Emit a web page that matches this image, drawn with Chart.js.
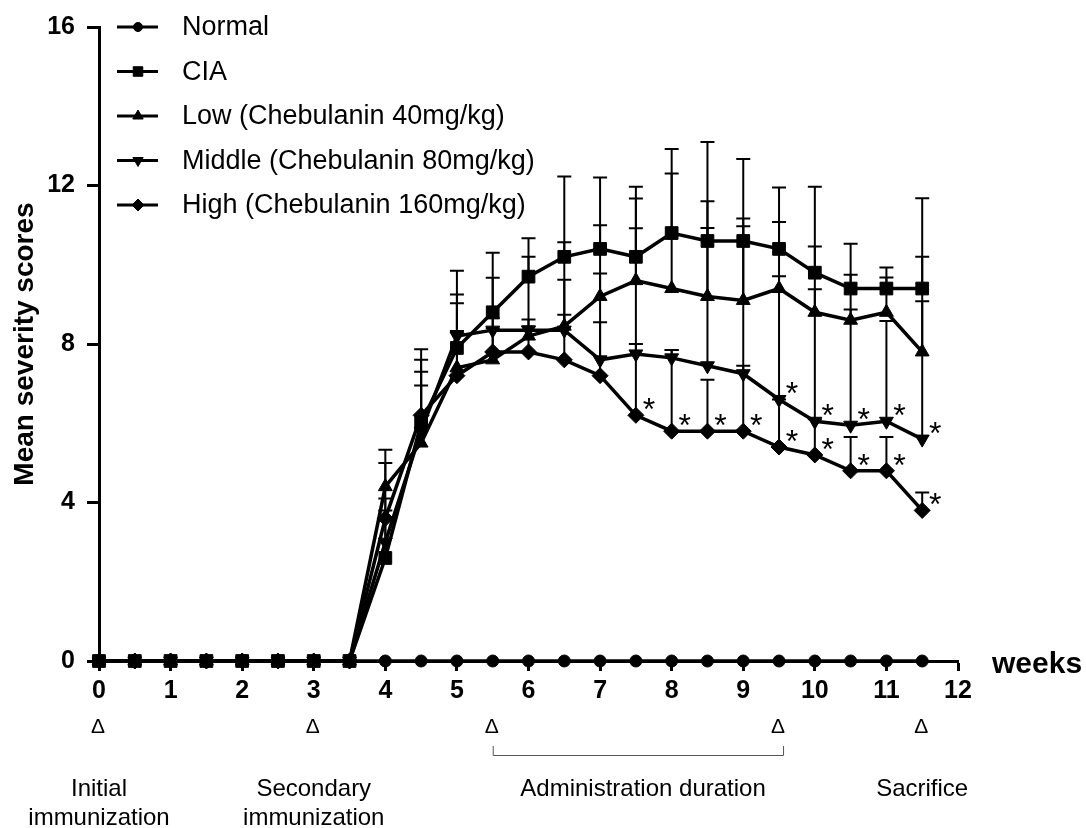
<!DOCTYPE html>
<html>
<head>
<meta charset="utf-8">
<script src="https://cdn.jsdelivr.net/npm/chart.js@4.4.0/dist/chart.umd.min.js"></script>
<style>
  html, body { margin: 0; padding: 0; background: #fff; }
  #c { display: block; }
</style>
</head>
<body>
<canvas id="c" width="1086" height="828"></canvas>
<script>
// weeks after initial immunization (one reading every half week)
const weeks = [0,0.5,1,1.5,2,2.5,3,3.5,4,4.5,5,5.5,6,6.5,7,7.5,8,8.5,9,9.5,10,10.5,11,11.5];

const labels = ['Normal', 'CIA', 'Low (Chebulanin 40mg/kg)', 'Middle (Chebulanin 80mg/kg)', 'High (Chebulanin 160mg/kg)'];

// mean severity scores
const normal = [0,0,0,0,0,0,0,0, 0,0,0,0,0,0,0,0,0,0,0,0,0,0,0,0];
const cia    = [0,0,0,0,0,0,0,0, 2.6,6.0,7.9,8.8,9.7,10.2,10.4,10.2,10.8,10.6,10.6,10.4,9.8,9.4,9.4,9.4];
const low    = [0,0,0,0,0,0,0,0, 4.4,5.5,7.4,7.6,8.2,8.45,9.2,9.6,9.4,9.2,9.1,9.4,8.8,8.6,8.8,7.8];
const middle = [0,0,0,0,0,0,0,0, 3.0,5.8,8.2,8.35,8.35,8.35,7.6,7.75,7.65,7.45,7.25,6.6,6.05,5.95,6.05,5.6];
const high   = [0,0,0,0,0,0,0,0, 3.6,6.2,7.2,7.8,7.8,7.6,7.2,6.2,5.8,5.8,5.8,5.4,5.2,4.8,4.8,3.8];

// upper error bars
const normalErr = [0,0,0,0,0,0,0,0, 0,0,0,0,0,0,0,0,0,0,0,0,0,0,0,0];
const ciaErr    = [0,0,0,0,0,0,0,0, 1.5,1.87,1.95,1.5,0.97,2.03,1.8,1.77,2.12,2.5,2.07,1.55,2.17,1.13,0.53,2.28];
const lowErr    = [0,0,0,0,0,0,0,0, 0.93,1.8,1.85,2.07,2.0,2.12,1.8,2.07,2.9,2.4,2.07,1.68,1.66,1.15,0.88,2.4];
const middleErr = [0,0,0,0,0,0,0,0, 0.8,1.8,0.83,0.3,0.1,1.27,2.18,3.17,0.2,3.48,3.72,3.11,3.33,2.92,2.53,3.48];
const highErr   = [0,0,0,0,0,0,0,0, 1.4,0.75,1.13,0.6,0.82,1.14,1.35,1.8,2.05,1.3,1.65,1.2,0.9,0.85,0.85,0.45];

// weeks marked with * (significant vs CIA)
const sigMiddle = [9.5,10,10.5,11,11.5];
const sigHigh = [7.5,8,8.5,9,9.5,10,10.5,11,11.5];

// timeline below the axis
const markWeeks = [0,3,5.5,9.5,11.5];
const adminRange = [5.5,9.5];
const phaseWeeks = [0,3,7.6,11.5];
const phaseText = [['Initial','immunization'],['Secondary','immunization'],['Administration duration'],['Sacrifice']];

const FONT = "'Liberation Sans', Arial, sans-serif";
const means = [normal, cia, low, middle, high];
const errs = [normalErr, ciaErr, lowErr, middleErr, highErr];
const styles = [
  { pointStyle:'circle', radius:6, rot:0 },
  { pointStyle:'rect', radius:9, rot:0 },
  { pointStyle:'triangle', radius:8, rot:0 },
  { pointStyle:'triangle', radius:8, rot:180 },
  { pointStyle:'rectRot', radius:8, rot:0 }
];

const datasets = means.map((vals,k)=>({
  label: labels[k],
  data: weeks.map((w,i)=>({x:w, y:vals[i]})),
  borderColor:'#000',
  backgroundColor:'#000',
  borderWidth:3.5,
  pointStyle: styles[k].pointStyle,
  pointRadius: styles[k].radius,
  pointRotation: styles[k].rot,
  pointBorderWidth:1,
  tension:0,
  clip:false
}));

const extras = {
  id:'extras',
  beforeDatasetsDraw(chart){
    const {ctx, scales:{x, y}} = chart;
    ctx.save();
    ctx.strokeStyle = '#000';
    ctx.lineWidth = 2;
    errs.forEach((err,k)=>{
      err.forEach((e,i)=>{
        if(!e) return;
        const px = x.getPixelForValue(weeks[i]);
        const y0 = y.getPixelForValue(means[k][i]);
        const y1 = y.getPixelForValue(means[k][i] + e);
        ctx.beginPath();
        ctx.moveTo(px, y0); ctx.lineTo(px, y1);
        ctx.moveTo(px-7, y1); ctx.lineTo(px+7, y1);
        ctx.stroke();
      });
    });
    ctx.restore();
  },
  afterDraw(chart){
    const {ctx, scales:{x, y}} = chart;
    ctx.save();
    ctx.fillStyle = '#000';
    ctx.strokeStyle = '#000';

    // legend
    labels.forEach((lab,k)=>{
      const ly = 27 + k*44.5;
      ctx.lineWidth = 3;
      ctx.beginPath(); ctx.moveTo(117, ly); ctx.lineTo(158, ly); ctx.stroke();
      ctx.lineWidth = 1;
      Chart.helpers.drawPoint(ctx, {pointStyle:styles[k].pointStyle, radius:styles[k].radius*0.75, rotation:styles[k].rot, borderWidth:1}, 138, ly);
      ctx.font = `27px ${FONT}`;
      ctx.textBaseline = 'middle';
      ctx.textAlign = 'left';
      ctx.fillText(lab, 182, ly + 1);
    });

    // asterisks
    ctx.font = `32px ${FONT}`;
    ctx.textAlign = 'center';
    ctx.textBaseline = 'alphabetic';
    const star = (w, vals) => {
      const i = weeks.indexOf(w);
      ctx.fillText('*', x.getPixelForValue(w) + 13, y.getPixelForValue(vals[i]) + 5);
    };
    sigMiddle.forEach(w=>star(w, middle));
    sigHigh.forEach(w=>star(w, high));

    // axis unit
    ctx.font = `bold 30px ${FONT}`;
    ctx.textAlign = 'left';
    ctx.fillText('weeks', 992, 673);

    // timeline marks
    ctx.font = `21px ${FONT}`;
    ctx.textAlign = 'center';
    ctx.textBaseline = 'middle';
    markWeeks.forEach(w=>ctx.fillText('\u0394', x.getPixelForValue(w) - 1, 727));

    ctx.strokeStyle = '#555';
    ctx.lineWidth = 1;
    const bx0 = x.getPixelForValue(adminRange[0]), bx1 = x.getPixelForValue(adminRange[1]) + 4;
    ctx.beginPath();
    ctx.moveTo(bx0+0.5, 746); ctx.lineTo(bx0+0.5, 755.5); ctx.lineTo(bx1+0.5, 755.5); ctx.lineTo(bx1+0.5, 746);
    ctx.stroke();

    ctx.font = `24px ${FONT}`;
    phaseText.forEach((lines,j)=>{
      const px = x.getPixelForValue(phaseWeeks[j]);
      lines.forEach((t,l)=>ctx.fillText(t, px, 789 + l*29));
    });
    ctx.restore();
  }
};

new Chart(document.getElementById('c'), {
  type:'line',
  data:{ datasets },
  plugins:[extras],
  options:{
    responsive:false,
    devicePixelRatio:1,
    animation:false,
    layout:{ padding:{ left:0, top:21, right:128, bottom:0 } },
    plugins:{ legend:{ display:false }, tooltip:{ enabled:false } },
    scales:{
      x:{
        type:'linear', min:0, max:12,
        afterFit(s){ s.height = 167; },
        ticks:{ stepSize:1, color:'#000', padding:5, maxRotation:0, font:{ family:FONT, size:25, weight:'bold' } },
        grid:{ drawOnChartArea:false, drawTicks:true, tickLength:10, tickWidth:3, tickColor:'#000', color:'#000' },
        border:{ display:true, width:3, color:'#000' }
      },
      y:{
        type:'linear', min:0, max:16,
        afterFit(s){ s.width = 99; },
        ticks:{ stepSize:4, color:'#000', padding:12, font:{ family:FONT, size:25, weight:'bold' } },
        grid:{ drawOnChartArea:false, drawTicks:true, tickLength:12, tickWidth:3, tickColor:'#000', color:'#000' },
        border:{ display:true, width:3, color:'#000' },
        title:{ display:true, text:'Mean severity scores', color:'#000', padding:{ top:8, bottom:0 }, font:{ family:FONT, size:28, weight:'bold' } }
      }
    }
  }
});
</script>
</body>
</html>
